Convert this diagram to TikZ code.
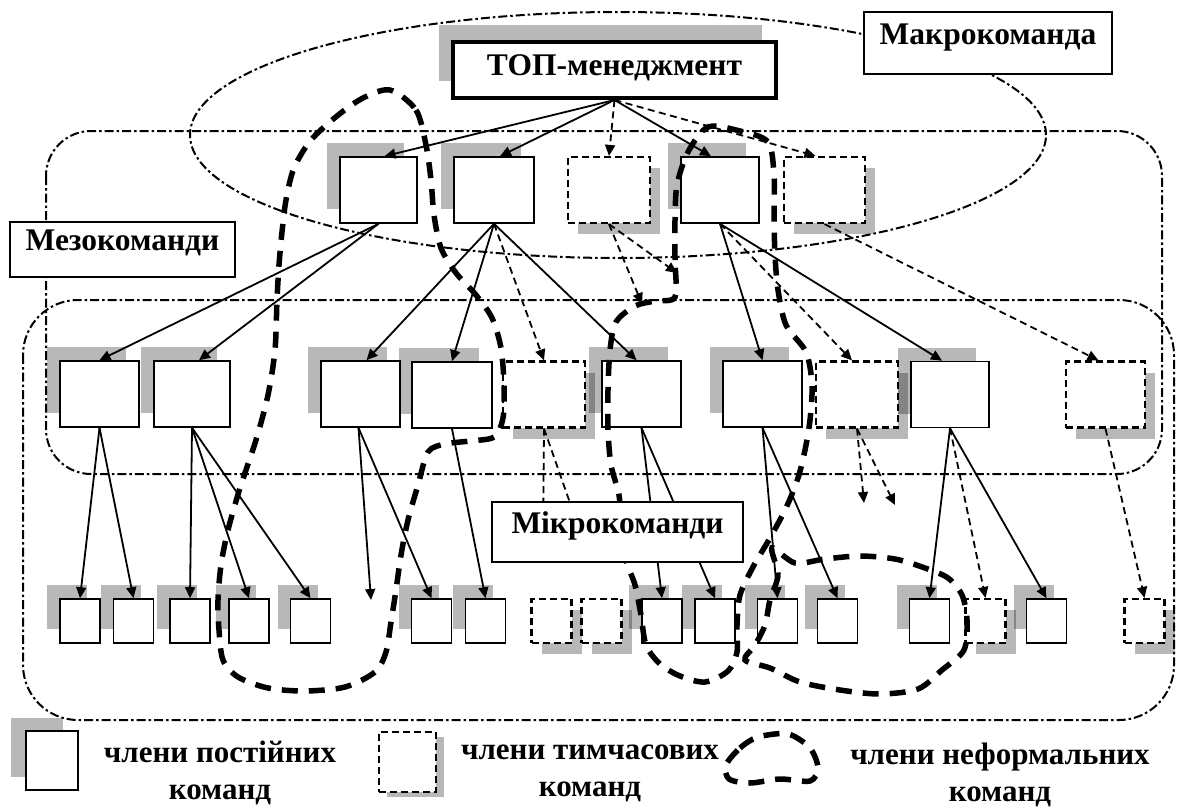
\documentclass[tikz,border=0pt]{standalone}
\usepackage{fontspec}
\setmainfont{Liberation Serif}
\usetikzlibrary{arrows.meta,shadows}
\begin{document}
\begin{tikzpicture}[x=1pt,y=-1pt,
  region/.style={line width=2pt, dash pattern=on 9pt off 3pt on 2.5pt off 3pt},
  pbox/.style={draw, fill=white, line width=1.6pt, inner sep=0pt, minimum height=66pt},
  tbox/.style={pbox, line width=2.2pt, dash pattern=on 7pt off 4pt},
  lbox/.style={minimum width=40pt, minimum height=44pt},
  shTL/.style={general shadow={fill=black, fill opacity=0.28, shadow xshift=-13pt, shadow yshift=14pt}},
  shBR/.style={general shadow={fill=black, fill opacity=0.28, shadow xshift=10pt, shadow yshift=-11pt}},
  sarr/.style={line width=1.8pt, -{Triangle[length=11pt,width=10pt]}},
  darr/.style={sarr, dash pattern=on 7pt off 4.5pt},
  dline/.style={line width=1.8pt, dash pattern=on 7pt off 4.5pt},
  inf/.style={line width=5.5pt, dash pattern=on 16pt off 11pt},
  lab/.style={draw, fill=white, line width=1.4pt, inner sep=0pt,
    font=\bfseries\fontsize{31.5}{36}\selectfont, text height=21pt, text depth=19pt},
  topbox/.style={draw, fill=white, line width=4pt, inner sep=0pt,
    minimum width=323pt, minimum height=56pt,
    font=\bfseries\fontsize{31.5}{36}\selectfont, text height=21pt, text depth=11pt,
    general shadow={fill=black, fill opacity=0.28, shadow xshift=-14pt, shadow yshift=17pt}},
  leg/.style={align=center, inner sep=0pt, font=\bfseries\fontsize{31}{37}\selectfont}
]
\useasboundingbox (0,0) rectangle (1177,809);
\fill[white] (0,0) rectangle (1177,809);

% team regions
\draw[region] (618,135) ellipse [x radius=428pt, y radius=123pt];
\draw[region, rounded corners=45pt] (46,131) rectangle (1162,474);
\draw[region, rounded corners=55pt] (23,300) rectangle (1174,720);

% top management
\node[topbox] (top) at (614.5,70) {ТОП-менеджмент};

% level 1
\node[pbox, shTL, minimum width=77pt] (B1) at (378.5,190) {};
\node[pbox, shTL, minimum width=80pt] (B2) at (494,190) {};
\node[tbox, shBR, minimum width=82pt] (B3) at (609,190) {};
\node[pbox, shTL, minimum width=78pt] (B4) at (720,190) {};
\node[tbox, shBR, minimum width=81pt] (B5) at (824.5,190) {};

% level 2
\node[pbox, shTL, minimum width=79pt] (C1) at (99.5,394) {};
\node[pbox, shTL, minimum width=76pt] (C2) at (192,394) {};
\node[pbox, shTL, minimum width=79pt] (C3) at (360.5,394) {};
\node[pbox, shTL, minimum width=80pt] (C4) at (452,395) {};
\node[tbox, shBR, minimum width=82pt] (C5) at (544,394.5) {};
\node[pbox, shTL, minimum width=79pt] (C6) at (641.5,394) {};
\node[pbox, shTL, minimum width=79pt] (C7) at (762.5,394) {};
\node[tbox, shBR, minimum width=82pt] (C8) at (857,394.5) {};
\node[pbox, shTL, minimum width=78pt] (C9) at (950,394.5) {};
\node[tbox, shBR, minimum width=79pt] (C10) at (1105.5,394.5) {};

% level 3
\node[pbox, lbox, shTL] (D1) at (80,621) {};
\node[pbox, lbox, shTL] (D2) at (133.5,621) {};
\node[pbox, lbox, shTL] (D3) at (190,621) {};
\node[pbox, lbox, shTL] (D4) at (249,621) {};
\node[pbox, lbox, shTL] (D5) at (310.5,621) {};
\node[pbox, lbox, shTL] (D6) at (431.5,621) {};
\node[pbox, lbox, shTL] (D7) at (485.5,621) {};
\node[tbox, lbox, shBR] (D8) at (551.5,621) {};
\node[tbox, lbox, shBR] (D9) at (601.5,621) {};
\node[pbox, lbox, shTL] (D10) at (662,621) {};
\node[pbox, lbox, shTL] (D11) at (715,621) {};
\node[pbox, lbox, shTL] (D12) at (777.5,621) {};
\node[pbox, lbox, shTL] (D13) at (837.5,621) {};
\node[pbox, lbox, shTL] (D14) at (929.5,621) {};
\node[tbox, lbox, shBR] (D15) at (985.5,621) {};
\node[pbox, lbox, shTL] (D16) at (1046.5,621) {};
\node[tbox, lbox, shBR] (D17) at (1144.5,621) {};

% free ends
\coordinate (b3a) at (642,304);
\coordinate (b3b) at (677,273);
\coordinate (c3a) at (371,600);
\coordinate (c5a) at (543,540);
\coordinate (c5b) at (583,540);
\coordinate (c8a) at (864,503);
\coordinate (c8b) at (895,505);

% top -> level 1
\draw[sarr] (top.south) -- ([xshift=6pt]B1.north);
\draw[sarr] (top.south) -- ([xshift=6pt]B2.north);
\draw[darr] (top.south) -- (B3.north);
\draw[sarr] (top.south) -- ([xshift=-9pt]B4.north);
\draw[darr] (top.south) -- ([xshift=-9pt]B5.north);

% level 1 -> level 2
\draw[sarr] (B1.south) -- (C1.north);
\draw[sarr] (B1.south) -- ([xshift=7pt]C2.north);
\draw[sarr] (B2.south) -- ([xshift=6pt]C3.north);
\draw[sarr] (B2.south) -- (C4.north);
\draw[darr] (B2.south) -- (C5.north);
\draw[sarr] (B2.south) -- ([xshift=-5pt]C6.north);
\draw[darr] (B3.south) -- (b3a);
\draw[darr] (B3.south) -- (b3b);
\draw[sarr] (B4.south) -- (C7.north);
\draw[darr] (B4.south) -- ([xshift=-5pt]C8.north);
\draw[sarr] (B4.south) -- ([xshift=-8pt]C9.north);
\draw[darr] (B5.south) -- ([xshift=-7pt]C10.north);

% level 2 -> level 3
\draw[sarr] (C1.south) -- (D1.north);
\draw[sarr] (C1.south) -- (D2.north);
\draw[sarr] (C2.south) -- (D3.north);
\draw[sarr] (C2.south) -- (D4.north);
\draw[sarr] (C2.south) -- (D5.north);
\draw[sarr] ([xshift=-2pt]C3.south) -- (c3a);
\draw[sarr] ([xshift=-2pt]C3.south) -- (D6.north);
\draw[sarr] (C4.south) -- (D7.north);
\draw[dline] (C5.south) -- (c5a);
\draw[dline] (C5.south) -- (c5b);
\draw[sarr] (C6.south) -- (D10.north);
\draw[sarr] (C6.south) -- (D11.north);
\draw[sarr] (C7.south) -- (D12.north);
\draw[sarr] (C7.south) -- (D13.north);
\draw[darr] (C8.south) -- (c8a);
\draw[darr] (C8.south) -- (c8b);
\draw[sarr] (C9.south) -- (D14.north);
\draw[darr] (C9.south) -- (D15.north);
\draw[sarr] (C9.south) -- (D16.north);
\draw[darr] (C10.south) -- (D17.north);

% informal teams
\draw[inf] plot[smooth cycle] coordinates {(390,90) (416,110) (426,145) (431,180) (434,215) (441,248) (456,273) (476,295) (492,318) (501,348) (504,385) (503,418) (494,437) (470,441) (445,444) (428,452) (418,485) (408,520) (401,555) (396,590) (391,622) (386,652) (375,672) (345,687) (305,691) (268,688) (238,677) (223,660) (219,630) (218,600) (221,565) (228,530) (240,488) (256,440) (268,395) (275,350) (277,300) (279,265) (282,232) (286,200) (294,168) (311,140) (337,116) (363,98)};
\draw[inf] plot[smooth cycle] coordinates {(675,297) (675,260) (675,220) (677,185) (688,152) (708,127) (740,131) (768,142) (774,175) (774,215) (775,255) (778,290) (786,325) (806,352) (812,385) (810,420) (805,450) (798,478) (786,508) (770,538) (753,567) (740,595) (737,625) (737,652) (728,671) (705,682) (680,676) (660,664) (646,645) (641,615) (635,585) (626,560) (621,525) (619,495) (611,465) (608,430) (608,390) (610,350) (616,322) (635,306) (655,301)};
\draw[inf] plot[smooth cycle] coordinates {(772,548) (778,575) (770,600) (765,625) (755,645) (745,660) (770,668) (800,682) (840,690) (880,694) (918,689) (942,670) (964,650) (967,620) (962,595) (948,578) (925,568) (895,559) (860,556) (825,559) (795,563)};

% labels
\node[lab, minimum width=248pt, minimum height=62pt] (macro) at (988,43) {Макрокоманда};
\node[lab, minimum width=225pt, minimum height=55pt] (meso) at (122.5,249.5) {Мезокоманди};
\node[lab, minimum width=251pt, minimum height=60pt] (micro) at (617.5,532) {Мікрокоманди};

% legend
\node[pbox, minimum width=52pt, minimum height=59pt,
  general shadow={fill=black, fill opacity=0.28, shadow xshift=-15pt, shadow yshift=13pt}] (lg1) at (52,760.5) {};
\node[tbox, minimum width=57pt, minimum height=60pt,
  general shadow={fill=black, fill opacity=0.28, shadow xshift=8pt, shadow yshift=-5pt}] (lg2) at (407.5,762) {};
\draw[inf] plot[smooth cycle] coordinates {(726,765) (740,748) (758,737) (788,734) (810,748) (818,768) (810,781) (780,779) (750,783) (729,779)};
\node[leg] (lt1) at (220,773) {члени постійних\\команд};
\node[leg] (lt2) at (590,773) {члени тимчасових\\команд};
\node[leg] (lt3) at (1000,775) {члени неформальних\\команд};
\end{tikzpicture}
\end{document}
